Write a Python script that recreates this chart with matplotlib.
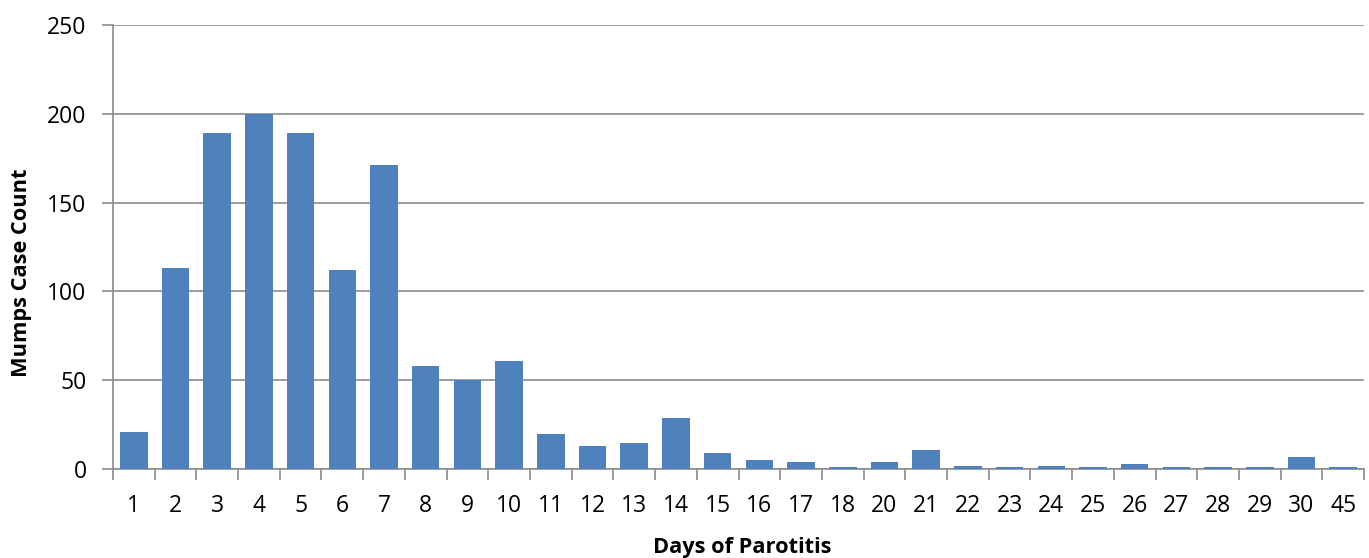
import numpy as np
import matplotlib
matplotlib.use("Agg")
import matplotlib.pyplot as plt

plt.rcParams['font.family'] = ['Open Sans', 'DejaVu Sans']

# days of parotitis and number of mumps cases for each
days = ['1', '2', '3', '4', '5', '6', '7', '8', '9', '10', '11', '12', '13', '14', '15',
        '16', '17', '18', '20', '21', '22', '23', '24', '25', '26', '27', '28', '29', '30', '45']
cases = [21, 113, 189, 200, 189, 112, 171, 58, 50, 61, 20, 13, 15, 29, 9,
         5, 4, 1, 4, 11, 2, 1, 2, 1, 3, 1, 1, 1, 7, 1]

bar_color = '#4F81BD'
grid_color = '#8C8C8C'

fig = plt.figure(figsize=(13.69, 5.58), dpi=100)
ax = fig.add_axes([0.0825, 0.159, 0.9139, 0.7968])

x = np.arange(len(days))
ax.bar(x, cases, width=0.66, color=bar_color, zorder=3)

ax.set_xlim(-0.5, len(days) - 0.5)
ax.set_ylim(0, 250)
ax.set_yticks(range(0, 251, 50))
ax.yaxis.grid(True, color=grid_color, linewidth=1.2, zorder=0)

# category labels centred, tick marks between categories
ax.set_xticks(x)
ax.set_xticklabels(days)
ax.set_xticks(np.arange(-0.5, len(days), 1), minor=True)
ax.tick_params(axis='x', which='major', length=0, labelsize=16.5, pad=18)
ax.tick_params(axis='x', which='minor', length=8, width=1.2, color=grid_color)
ax.tick_params(axis='y', length=8, width=1.2, color=grid_color, labelsize=16.5, pad=11)

for side in ['top', 'right']:
    ax.spines[side].set_visible(False)
for side in ['left', 'bottom']:
    ax.spines[side].set_color(grid_color)
    ax.spines[side].set_linewidth(1.2)

ax.set_xlabel('Days of Parotitis', fontsize=15.7, fontweight='bold')
ax.set_ylabel('Mumps Case Count', fontsize=15.7, fontweight='bold')
ax.xaxis.set_label_coords(0.503, -0.153)
ax.yaxis.set_label_coords(-0.065, 0.443)

fig.savefig('out.png', dpi=100)
